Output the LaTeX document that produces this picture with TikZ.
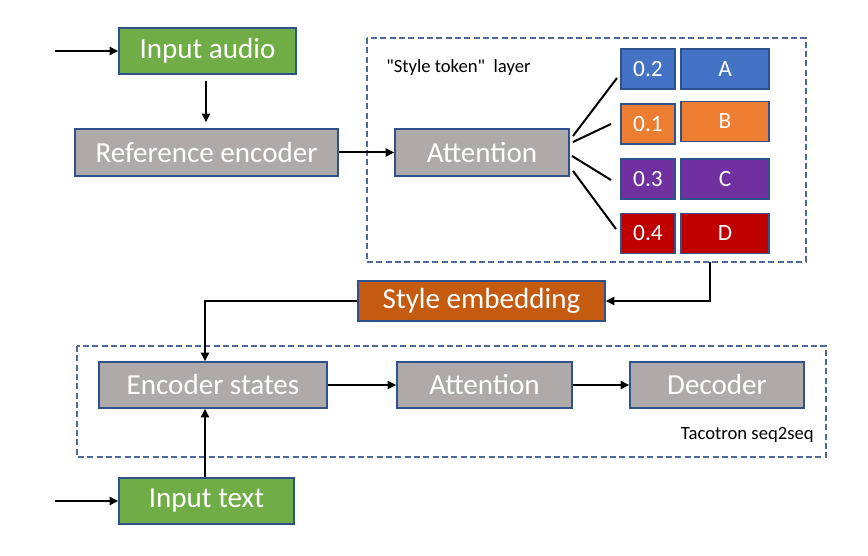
\documentclass[tikz,border=0pt]{standalone}
\usepackage{fontspec}
\setmainfont{Carlito}
\usetikzlibrary{arrows.meta,calc}
\definecolor{cgreen}{HTML}{70AD47}
\definecolor{cgray}{HTML}{AEAAAA}
\definecolor{cblue}{HTML}{4472C4}
\definecolor{corange}{HTML}{ED7D31}
\definecolor{cpurple}{HTML}{7030A0}
\definecolor{cred}{HTML}{C00000}
\definecolor{cbrown}{HTML}{C55A11}
\definecolor{cedge}{HTML}{2F528F}
\definecolor{cdash}{HTML}{4F6A9A}
\tikzset{
  box/.style={draw=cedge, line width=1pt, text=white, inner sep=0pt, font=\fontsize{21.8}{24}\selectfont},
  tok/.style={draw=cedge, line width=1pt, text=white, inner sep=0pt, minimum height=30pt, font=\fontsize{17.5}{19}\selectfont},
  arr/.style={-{Triangle[length=6.5pt,width=6pt]}, line width=1.5pt, black},
  ln/.style={line width=1.5pt, black},
  grp/.style={draw=cdash, line width=1.1pt, dash pattern=on 4.5pt off 2.5pt},
  small/.style={font=\fontsize{14}{16}\selectfont, inner sep=0pt}
}
\begin{document}
\begin{tikzpicture}[x=0.75pt,y=-0.75pt]
\useasboundingbox (0,0) rectangle (868,556);
% group boxes
\draw[grp] (367,38) rectangle (806,262);
\draw[grp] (77,346) rectangle (826,457);
\node[small, anchor=west] (stl) at (386,68) {\textquotedbl Style token\textquotedbl\ \ layer};
\node[small, anchor=east] (tac) at (814,435) {Tacotron seq2seq};
% main boxes
\node[box, fill=cgreen, minimum width=132.75pt, minimum height=34.5pt] (audio) at (207.5,51) {Input audio};
\node[box, fill=cgray, minimum width=197.25pt, minimum height=35.25pt] (refenc) at (206.5,152.5) {Reference encoder};
\node[box, fill=cgray, minimum width=130.5pt, minimum height=35.25pt] (att1) at (482,152.5) {Attention};
% tokens
\node[tok, fill=cblue, minimum width=40.5pt] (n1) at (648,69) {0.2};
\node[tok, fill=cblue, minimum width=66pt] (l1) at (725,69) {A};
\node[tok, fill=corange, minimum width=40.5pt] (n2) at (648,124) {0.1};
\node[tok, fill=corange, minimum width=66pt] (l2) at (725,121.5) {B};
\node[tok, fill=cpurple, minimum width=40.5pt] (n3) at (648,179) {0.3};
\node[tok, fill=cpurple, minimum width=66pt] (l3) at (725,179) {C};
\node[tok, fill=cred, minimum width=40.5pt] (n4) at (648,233.5) {0.4};
\node[tok, fill=cred, minimum width=66pt] (l4) at (725,233.5) {D};
% style embedding
\node[box, fill=cbrown, minimum width=185.25pt, minimum height=30pt] (semb) at (481.5,301) {Style embedding};
% tacotron
\node[box, fill=cgray, minimum width=171pt, minimum height=34.5pt] (enc) at (213,385) {Encoder states};
\node[box, fill=cgray, minimum width=131.25pt, minimum height=34.5pt] (att2) at (484.5,385) {Attention};
\node[box, fill=cgray, minimum width=130.5pt, minimum height=34.5pt] (dec) at (717,385) {Decoder};
\node[box, fill=cgreen, minimum width=131.25pt, minimum height=34.5pt] (text) at (206.5,501) {Input text};
% coordinates
\coordinate (ain) at (55,51);
\coordinate (tin) at (55,501);
\coordinate (s1) at (573,136); \coordinate (e1) at (617,78);
\coordinate (s2) at (573,142); \coordinate (e2) at (611,124);
\coordinate (s3) at (572,156); \coordinate (e3) at (611,180);
\coordinate (s4) at (573,171); \coordinate (e4) at (616,229);
\coordinate (gb) at (710,262);
\coordinate (gc) at (710,301);
\coordinate (lc) at (205,301);
% connectors
\draw[arr] (ain) -- (audio.west);
\draw[arr] ($(audio.south)+(-1.5,6)$) -- ($(refenc.north)+(-0.5,-6)$);
\draw[arr] (refenc.east) -- (att1.west);
\draw[ln] (s1) -- (e1);
\draw[ln] (s2) -- (e2);
\draw[ln] (s3) -- (e3);
\draw[ln] (s4) -- (e4);
\draw[arr] (gb) -- (gc) -- (semb.east);
\draw[arr] (semb.west) -- (lc) -- (lc |- enc.north);
\draw[arr] (enc.east) -- (att2.west);
\draw[arr] (att2.east) -- (dec.west);
\draw[arr] (tin) -- (text.west);
\draw[arr] (lc |- text.north) -- (lc |- enc.south);
\end{tikzpicture}
\end{document}
